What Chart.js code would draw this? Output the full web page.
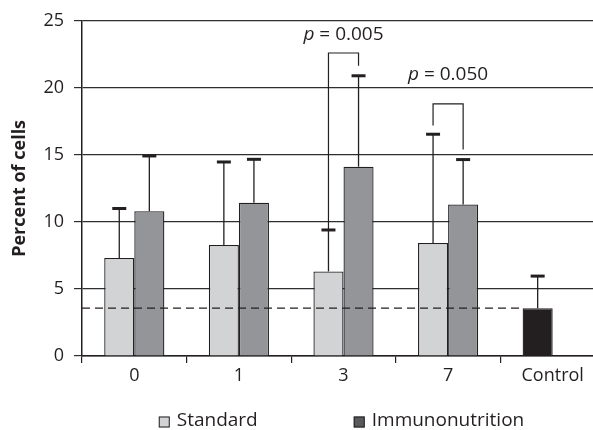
<!DOCTYPE html>
<html>
<head>
<meta charset="utf-8">
<script src="https://cdn.jsdelivr.net/npm/chart.js@4.4.1/dist/chart.umd.min.js"></script>
<style>
  html, body { margin: 0; padding: 0; background: #fff; overflow: hidden; }
  #wrap { width: 606px; height: 430px; }
</style>
</head>
<body>
<div id="wrap"><canvas id="chart"></canvas></div>
<script>
const categories = ['0', '1', '3', '7', 'Control'];
const standard = [7.31, 8.28, 6.31, 8.43, 3.57];
const immuno = [10.8, 11.43, 14.12, 11.3, null];
const standardErr = [11.0, 14.47, 9.4, 16.54, 5.96];
const immunoErr = [14.92, 14.67, 20.9, 14.65, null];
const controlMean = 3.57;

// significance brackets (category index, levels in percent)
const bracketCats = [2, 3];
const bracketTops = [22.6, 18.8];
const bracketLeftEnds = [9.4, 17.2];
const bracketRightEnds = [21.65, 15.4];
const bracketLabelY = [23.58, 20.58];
const bracketP = ['0.005', '0.050'];

const FONT = '"Open Sans", "DejaVu Sans", sans-serif';
const INK = '#231f20';
const COL_STD = '#d1d3d4';
const COL_IMM = '#939598';
const COL_IMM_KEY = '#58595b';

const annotations = {
    id: 'annotations',
    afterDatasetsDraw(chart) {
        const ctx = chart.ctx;
        const y = chart.scales.y;
        const area = chart.chartArea;
        const metaS = chart.getDatasetMeta(0);
        const metaI = chart.getDatasetMeta(1);
        ctx.save();
        ctx.strokeStyle = INK;

        // dashed control level
        const ctrl = metaS.data[4];
        const cy = y.getPixelForValue(controlMean);
        ctx.lineWidth = 1.2;
        ctx.setLineDash([8, 5]);
        ctx.beginPath();
        ctx.moveTo(area.left, cy);
        ctx.lineTo(ctrl.x - ctrl.width / 2, cy);
        ctx.stroke();
        ctx.setLineDash([]);

        // upper error bars
        [[metaS, standardErr], [metaI, immunoErr]].forEach(([meta, errs]) => {
            meta.data.forEach((bar, i) => {
                if (errs[i] == null) return;
                const top = y.getPixelForValue(errs[i]);
                ctx.lineWidth = 1.3;
                ctx.beginPath();
                ctx.moveTo(bar.x, bar.y);
                ctx.lineTo(bar.x, top);
                ctx.stroke();
                ctx.lineWidth = 3;
                ctx.beginPath();
                ctx.moveTo(bar.x - 7, top);
                ctx.lineTo(bar.x + 7, top);
                ctx.stroke();
            });
        });

        // brackets with p values
        bracketCats.forEach((c, k) => {
            const xl = metaS.data[c].x;
            const xr = metaI.data[c].x;
            const yt = y.getPixelForValue(bracketTops[k]);
            ctx.lineWidth = 1.2;
            ctx.beginPath();
            ctx.moveTo(xl, y.getPixelForValue(bracketLeftEnds[k]));
            ctx.lineTo(xl, yt);
            ctx.lineTo(xr, yt);
            ctx.lineTo(xr, y.getPixelForValue(bracketRightEnds[k]));
            ctx.stroke();

            const italic = 'italic 19px ' + FONT;
            const normal = '19px ' + FONT;
            const rest = ' = ' + bracketP[k];
            ctx.font = italic;
            const wp = ctx.measureText('p').width;
            ctx.font = normal;
            const wr = ctx.measureText(rest).width;
            const x0 = (xl + xr) / 2 - (wp + wr) / 2;
            const ty = y.getPixelForValue(bracketLabelY[k]);
            ctx.fillStyle = INK;
            ctx.textBaseline = 'alphabetic';
            ctx.textAlign = 'left';
            ctx.font = italic;
            ctx.fillText('p', x0, ty);
            ctx.font = normal;
            ctx.fillText(rest, x0 + wp, ty);
        });
        ctx.restore();
    },
    afterDraw(chart) {
        // legend under the x axis
        const ctx = chart.ctx;
        const area = chart.chartArea;
        const items = [
            { label: chart.data.datasets[0].label, color: COL_STD },
            { label: chart.data.datasets[1].label, color: COL_IMM_KEY }
        ];
        const box = 11, gapText = 7, gapItem = 96;
        ctx.save();
        ctx.font = '19px ' + FONT;
        const widths = items.map(it => box + gapText + ctx.measureText(it.label).width);
        const total = widths[0] + gapItem + widths[1];
        let x = (area.left + area.right) / 2 - total / 2 - 2;
        const yc = 422;
        items.forEach((it, i) => {
            ctx.fillStyle = it.color;
            ctx.fillRect(x, yc - box / 2, box, box);
            ctx.strokeStyle = INK;
            ctx.lineWidth = 1;
            ctx.strokeRect(x + 0.5, yc - box / 2 + 0.5, box - 1, box - 1);
            ctx.fillStyle = INK;
            ctx.textBaseline = 'middle';
            ctx.fillText(it.label, x + box + gapText, yc - 1);
            x += widths[i] + gapItem;
        });
        ctx.restore();
    }
};

new Chart(document.getElementById('chart'), {
    type: 'bar',
    data: {
        labels: categories,
        datasets: [{
            label: 'Standard',
            data: standard,
            backgroundColor: [COL_STD, COL_STD, COL_STD, COL_STD, INK],
            borderColor: INK,
            borderWidth: 1.3
        }, {
            label: 'Immunonutrition',
            data: immuno,
            backgroundColor: COL_IMM,
            borderColor: INK,
            borderWidth: 1.3
        }]
    },
    options: {
        responsive: true,
        maintainAspectRatio: false,
        animation: false,
        layout: { padding: { top: 13, right: 1, bottom: 44, left: 0 } },
        datasets: { bar: { categoryPercentage: 0.575, barPercentage: 1 } },
        plugins: {
            legend: { display: false },
            tooltip: { enabled: false }
        },
        scales: {
            x: {
                grid: { drawOnChartArea: false, drawTicks: true, tickLength: 7, color: INK, lineWidth: 1.2 },
                border: { color: INK, width: 1.5 },
                ticks: { color: INK, padding: 2, font: { family: FONT, size: 18 } },
                afterFit(scale) { scale.height = 30; }
            },
            y: {
                min: 0,
                max: 25,
                ticks: { stepSize: 5, color: INK, padding: 10, font: { family: FONT, size: 18 } },
                grid: { color: '#2e2e2e', lineWidth: 1.2, tickLength: 8 },
                border: { color: INK, width: 1.5 },
                title: {
                    display: true,
                    text: 'Percent of cells',
                    color: INK,
                    padding: { top: 9, bottom: 0 },
                    font: { family: FONT, size: 18, weight: 'bold' }
                },
                afterFit(scale) { scale.width = 82; }
            }
        }
    },
    plugins: [annotations]
});
</script>
</body>
</html>
